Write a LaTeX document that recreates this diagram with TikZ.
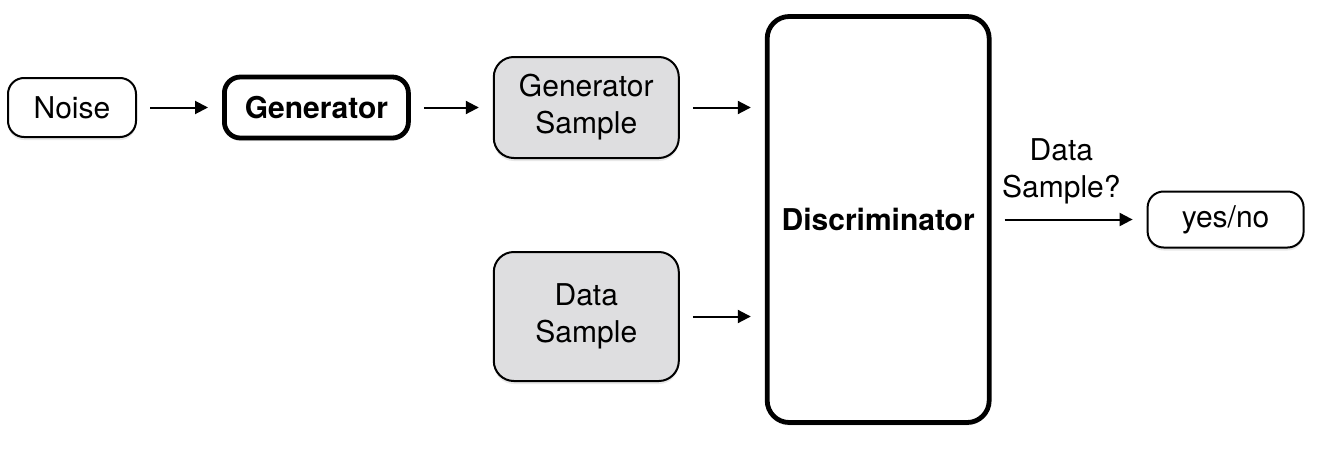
\documentclass[tikz,border=0pt]{standalone}
\usepackage{fontspec}
\setmainfont{TeX Gyre Heros}
\usepackage{tikz}
\usetikzlibrary{arrows.meta, positioning, shadows}
\usepackage{xcolor}
\definecolor{samplegray}{RGB}{222,222,224}
\newcommand{\boxfont}{\fontsize{15pt}{18.5pt}\selectfont}
\tikzstyle{box} = [rectangle, rounded corners=8pt, text centered, align=center, draw=black, line width=1pt, fill=white, drop shadow={opacity=0.18, shadow xshift=0pt, shadow yshift=-1.5pt}]
\tikzstyle{model} = [box, line width=2.4pt, font=\boxfont\bfseries]
\tikzstyle{sample} = [box, rounded corners=10pt, fill=samplegray, minimum width=92.5pt]
\tikzstyle{arrow} = [line width=1pt, -{Triangle[length=6.5pt, width=6.5pt]}, shorten <=6.5pt, shorten >=7pt]

\begin{document}
\begin{tikzpicture}[every node/.style={font=\boxfont}]

% Generator path
\node (noise) [box, minimum width=64pt, minimum height=29.5pt] {Noise};
\node (gen) [model, right=42.5pt of noise, minimum width=92pt, minimum height=30.5pt] {Generator};
\node (gsample) [sample, right=41pt of gen, minimum height=50.5pt] {Generator\\Sample};

% Real data
\node (dsample) [sample, below=46pt of gsample, minimum height=64.5pt] {Data\\Sample};

% Discriminator and output
\node (disc) [model, rounded corners=11pt, right=42.5pt of gsample, yshift=-56pt, minimum width=111pt, minimum height=203pt] {Discriminator};
\node (answer) [box, right=77.5pt of disc, minimum width=78pt, minimum height=28pt] {yes/no};

\useasboundingbox ([xshift=-36pt, yshift=53.75pt]noise.center) rectangle ++(659pt,-228pt);

% Arrows
\draw [arrow] (noise) -- (gen);
\draw [arrow] (gen) -- (gsample);
\draw [arrow] (gsample.east) -- (gsample.east -| disc.west);
\draw [arrow] (dsample.east) -- (dsample.east -| disc.west);
\draw [arrow] (disc) -- node[above=4pt, align=center, pos=0.45] {Data\\Sample?} (answer);

\end{tikzpicture}
\end{document}
